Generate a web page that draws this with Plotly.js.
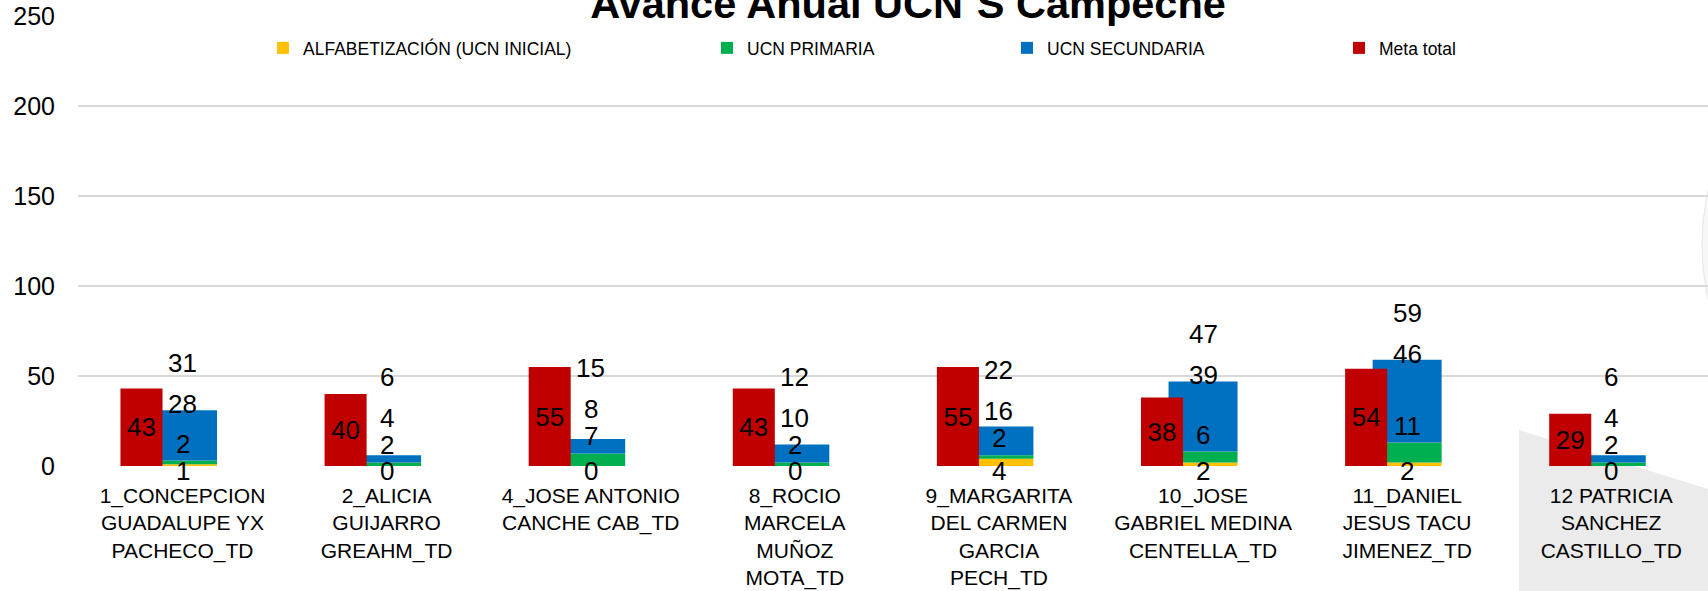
<!DOCTYPE html>
<html>
<head>
<meta charset="utf-8">
<script src="https://cdn.plot.ly/plotly-3.0.1.min.js"></script>
<style>html,body{margin:0;padding:0;background:#fff;}#chart{width:1708px;height:591px;}</style>
</head>
<body>
<div id="chart"></div>
<script>
// ---- data ----
const categories = [
  "1_CONCEPCION<br>GUADALUPE YX<br>PACHECO_TD",
  "2_ALICIA<br>GUIJARRO<br>GREAHM_TD",
  "4_JOSE ANTONIO<br>CANCHE CAB_TD",
  "8_ROCIO<br>MARCELA<br>MUÑOZ<br>MOTA_TD",
  "9_MARGARITA<br>DEL CARMEN<br>GARCIA<br>PECH_TD",
  "10_JOSE<br>GABRIEL MEDINA<br>CENTELLA_TD",
  "11_DANIEL<br>JESUS TACU<br>JIMENEZ_TD",
  "12 PATRICIA<br>SANCHEZ<br>CASTILLO_TD"
];
const alfabetizacion = [1, 0, 0, 0, 4, 2, 2, 0];
const primaria       = [2, 2, 7, 2, 2, 6, 11, 2];
const secundaria     = [28, 4, 8, 10, 16, 39, 46, 4];
const metaTotal      = [43, 40, 55, 43, 55, 38, 54, 29];
const seriesNames = ["ALFABETIZACIÓN (UCN INICIAL)", "UCN PRIMARIA", "UCN SECUNDARIA", "Meta total"];
const yTicks = [0, 50, 100, 150, 200, 250];

// ---- styling / geometry ----
const W = 1708, H = 591;
const M = {l: 78, r: 0, t: 16, b: 125, autoexpand: false};
const plotH = H - M.t - M.b;
const yMax = 250;
const PX = plotH / yMax;           // px per unit
const FONT = "Liberation Sans, Arial, sans-serif";
const colors = ["#FFC000", "#00B050", "#0070C0", "#C00000"];
const stackOffset = -0.169, stackWidth = 0.338;
const metaOffset = -0.304, metaWidth = 0.206;

const primBase = alfabetizacion.slice();
const secBase = alfabetizacion.map((a, i) => a + primaria[i]);
const totals = secBase.map((b, i) => b + secundaria[i]);

function stackTrace(name, y, base, color, legendId) {
  return {
    type: "bar", name: name, x: categories, y: y, base: base,
    offset: stackOffset, width: stackWidth,
    marker: {color: color, line: {width: 0}},
    legend: legendId, hoverinfo: "skip"
  };
}

const traces = [
  stackTrace(seriesNames[0], alfabetizacion, categories.map(() => 0), colors[0], "legend"),
  stackTrace(seriesNames[1], primaria, primBase, colors[1], "legend2"),
  stackTrace(seriesNames[2], secundaria, secBase, colors[2], "legend3"),
  {
    type: "bar", name: seriesNames[3], x: categories, y: metaTotal,
    offset: metaOffset, width: metaWidth,
    marker: {color: colors[3], line: {width: 0}},
    text: metaTotal.map(String), textposition: "inside", insidetextanchor: "middle",
    textangle: 0, constraintext: "none",
    textfont: {family: FONT, size: 26, color: "#000"},
    legend: "legend4", hoverinfo: "skip"
  }
];

// data labels for stacked series, placed by rule from the values
const labelFont = {family: FONT, size: 26, color: "#000"};
const annotations = [];
categories.forEach((c, i) => {
  const alfPx = -5;
  const primPx = secBase[i] * PX + 17;
  const secPx = Math.max(totals[i] * PX + 6, primPx + 27);
  const totPx = secPx + 41;
  [[alfabetizacion[i], alfPx], [primaria[i], primPx], [secundaria[i], secPx], [totals[i], totPx]]
    .forEach(([v, p]) => {
      annotations.push({
        x: i, y: 0, yshift: p, xref: "x", yref: "y", text: String(v), showarrow: false,
        xanchor: "center", yanchor: "middle", font: labelFont
      });
    });
});

// slide decoration (grey shapes on the right)
const plotW = W - M.l - M.r;
const px2x = (px) => (px - M.l) / plotW;
const py2y = (py) => (H - M.b - py) / plotH;
const shapes = [
  {
    type: "path", xref: "paper", yref: "paper", layer: "below",
    path: `M ${px2x(1519)} ${py2y(430)} L ${px2x(1708)} ${py2y(489)} L ${px2x(1708)} ${py2y(591)} L ${px2x(1519)} ${py2y(591)} Z`,
    fillcolor: "#ebebeb", line: {width: 0}
  },
  {
    type: "circle", xref: "paper", yref: "paper", layer: "below",
    x0: px2x(1702), x1: px2x(2206), y0: py2y(497), y1: py2y(-7),
    fillcolor: "#f7f7f7", line: {color: "#e6e6e6", width: 1}
  }
];

function legendAt(pxX, pxY) {
  return {
    xref: "container", yref: "container", x: pxX / W, y: 1 - pxY / H,
    xanchor: "left", yanchor: "middle", orientation: "h",
    bgcolor: "rgba(0,0,0,0)", borderwidth: 0,
    font: {family: FONT, size: 17.5, color: "#000"}
  };
}

const layout = {
  width: W, height: H,
  margin: M,
  paper_bgcolor: "#ffffff", plot_bgcolor: "rgba(0,0,0,0)",
  barmode: "overlay",
  showlegend: true,
  title: {
    text: "Avance Anual UCN´S Campeche",
    font: {family: FONT, size: 41.5, color: "#000", weight: 700},
    xref: "container", yref: "container", x: 908 / W, xanchor: "center",
    y: 1 - 3 / H, yanchor: "middle", automargin: false
  },
  xaxis: {
    type: "category", range: [-0.512, 7.474],
    showgrid: false, zeroline: false, showline: false, ticks: "",
    ticklabelstandoff: 15,
    tickfont: {family: FONT, size: 21, color: "#000"},
    tickangle: 0, automargin: false
  },
  yaxis: {
    range: [0, yMax], tickmode: "array", tickvals: yTicks, ticktext: yTicks.map(String),
    showgrid: true, gridcolor: "#d9d9d9", gridwidth: 2,
    zeroline: false, showline: false, ticks: "",
    ticklabelstandoff: 22,
    tickfont: {family: FONT, size: 25, color: "#000"},
    automargin: false
  },
  legend: legendAt(263, 48),
  legend2: legendAt(707, 48),
  legend3: legendAt(1007, 48),
  legend4: legendAt(1339, 48),
  annotations: annotations,
  shapes: shapes
};

Plotly.newPlot("chart", traces, layout, {displayModeBar: false, staticPlot: true});
</script>
</body>
</html>
